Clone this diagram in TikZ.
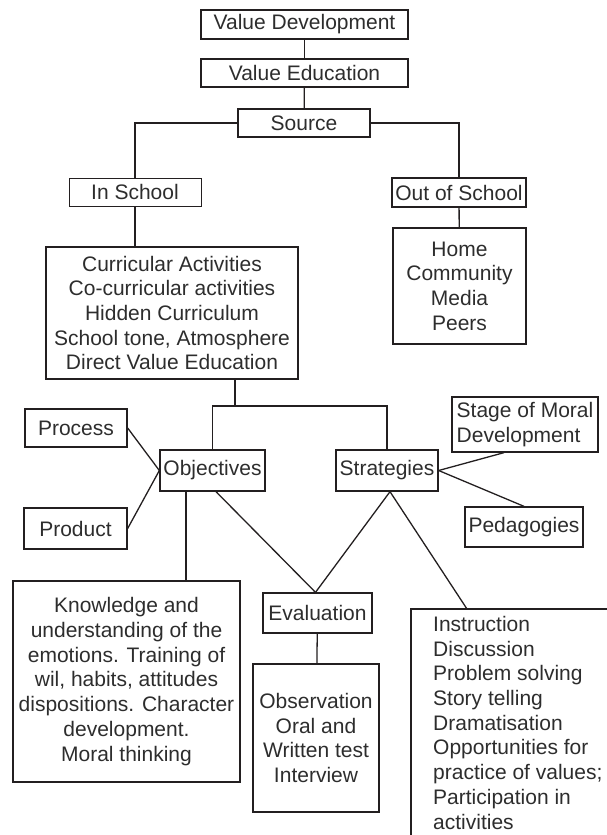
\documentclass[tikz,border=0pt]{standalone}
\usepackage{fontspec}
\setmainfont{Liberation Sans}
\definecolor{ink}{RGB}{35,31,32}
\definecolor{txt}{RGB}{45,45,45}
\tikzset{
  box/.style={draw=ink, line width=1.3pt, inner sep=0pt, align=center, text=txt,
              font=\fontsize{21}{24.7}\selectfont},
  conn/.style={draw=ink, line width=1.3pt},
  plain/.style={inner sep=0pt, text=txt, font=\fontsize{21}{24.7}\selectfont}
}
\begin{document}
\begin{tikzpicture}[x=1pt,y=-1pt]
\useasboundingbox (0,0) rectangle (607,835);
% top chain
\node[box, minimum width=207pt, minimum height=29pt] (vd) at (304.5,24.5) {Value Development};
\node[box, minimum width=207pt, minimum height=28pt] (ve) at (304.5,73) {Value Education};
\node[box, minimum width=132pt, minimum height=28pt] (src) at (304,123) {Source};
% second level
\node[box, line width=0.8pt, minimum width=132pt, minimum height=28pt] (insch) at (135,192) {In School};
\node[box, minimum width=134pt, minimum height=29pt] (outsch) at (459,192.5) {Out of School};
\node[box, minimum width=252pt, minimum height=132pt] (curr) at (172,313)
  {Curricular Activities\\Co-curricular activities\\Hidden Curriculum\\School tone, Atmosphere\\Direct Value Education};
\node[box, minimum width=133pt, minimum height=116pt] (home) at (459.5,286)
  {Home\\Community\\Media\\Peers};
% third level
\node[box, minimum width=105pt, minimum height=41pt] (obj) at (212.5,470.5) {Objectives};
\node[box, minimum width=102pt, minimum height=41pt] (strat) at (387,470.5) {Strategies};
\node[box, minimum width=102pt, minimum height=38pt] (proc) at (76,428) {Process};
\node[box, minimum width=103pt, minimum height=41pt] (prod) at (75.5,528.5) {Product};
\node[box, align=left, minimum width=146pt, minimum height=55pt] (stage) at (525,424.5)
  {Stage of Moral\\Development};
\node[box, minimum width=118pt, minimum height=40pt] (ped) at (524,527) {Pedagogies};
% bottom level
\node[box, minimum width=227pt, minimum height=201pt] (know) at (126.5,681.5)
  {Knowledge and\\understanding of the\\emotions. Training of\\wil, habits, attitudes\\dispositions. Character\\development.\\Moral thinking};
\node[box, minimum width=109pt, minimum height=40pt] (eval) at (317.5,613) {Evaluation};
\node[box, minimum width=126pt, minimum height=148pt] (obs) at (316,738)
  {Observation\\Oral and\\Written test\\Interview};
% instruction box (runs past the picture edge)
\coordinate (instrtl) at (411,609);
\coordinate (instrtop) at (467,609);
\draw[conn] (607,609) -- (instrtl) -- (411,835);
\node[plain, anchor=north west, align=left] (instr) at (433,616)
  {Instruction\\Discussion\\Problem solving\\Story telling\\Dramatisation\\Opportunities for\\practice of values;\\Participation in\\activities};
% connectors
\draw[conn] (vd) -- (ve);
\draw[conn] (ve) -- (src);
\draw[conn] (src.west) -| (insch.north);
\draw[conn] (src.east) -| (outsch.north);
\draw[conn] (insch.south) -- (insch.south |- curr.north);
\draw[conn] (outsch) -- (home);
\coordinate (jn) at (235,406);
\draw[conn] ([xshift=63pt]curr.south) -- (jn);
\draw[conn] (obj.north) |- (jn) -| (strat.north);
\draw[conn] (proc.east) -- (obj.west);
\draw[conn] (prod.east) -- (obj.west);
\draw[conn] (strat.east) -- ([xshift=-21pt]stage.south);
\draw[conn] (strat.east) -- (ped.north);
\draw[conn] ([xshift=-26.5pt]obj.south) -- ([xshift=-26.5pt]obj.south |- know.north);
\draw[conn] ([xshift=3.5pt]obj.south) -- ([xshift=-2pt]eval.north);
\draw[conn] ([xshift=3pt]strat.south) -- ([xshift=-2pt]eval.north);
\draw[conn] ([xshift=3pt]strat.south) -- (instrtop);
\draw[conn] (eval) -- (obs);
\end{tikzpicture}
\end{document}
